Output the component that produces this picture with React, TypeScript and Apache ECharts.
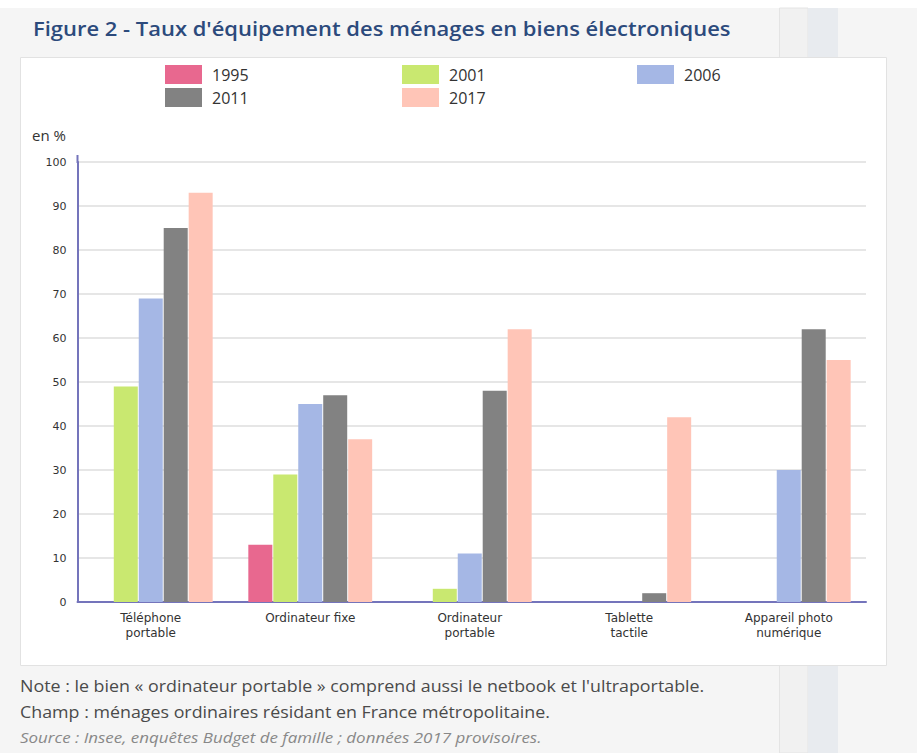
import React, { useEffect, useRef } from "react";
import * as echarts from "echarts";

const categories = [
  "Téléphone\nportable",
  "Ordinateur fixe",
  "Ordinateur\nportable",
  "Tablette\ntactile",
  "Appareil photo\nnumérique",
];
const years = ["1995", "2001", "2006", "2011", "2017"];
const v1995 = [null, 13, null, null, null];
const v2001 = [49, 29, 3, null, null];
const v2006 = [69, 45, 11, null, 30];
const v2011 = [85, 47, 48, 2, 62];
const v2017 = [93, 37, 62, 42, 55];
const yTicks = { min: 0, max: 100, interval: 10 };
const colors = ["#e8688f", "#c9e870", "#a5b7e5", "#828282", "#ffc5b7"];

const titleText = "Figure 2 - Taux d'équipement des ménages en biens électroniques";
const noteText = "Note : le bien « ordinateur portable » comprend aussi le netbook et l'ultraportable.";
const champText = "Champ : ménages ordinaires résidant en France métropolitaine.";
const sourceText = "Source : Insee, enquêtes Budget de famille ; données 2017 provisoires.";

export default function App() {
  const ref = useRef<HTMLDivElement>(null);
  useEffect(() => {
    if (!ref.current) return;
    const chart = echarts.init(ref.current, null, { renderer: "svg" });
    const values = [v1995, v2001, v2006, v2011, v2017];
    const legendBase = {
      orient: "vertical" as const,
      top: 65,
      padding: 0,
      itemWidth: 37,
      itemHeight: 19,
      itemGap: 4,
      icon: "rect",
      textStyle: {
        fontSize: 16,
        fontFamily: "Open Sans",
        color: "#333",
        padding: [0, 0, 0, 5],
      },
    };
    const axisColor = "#7474bb";
    chart.setOption({
      animation: false,
      color: colors,
      graphic: {
        elements: [
          { type: "rect", z: -20, shape: { x: 0, y: 0, width: 917, height: 753 }, style: { fill: "#ffffff" } },
          { type: "rect", z: -19, shape: { x: 0, y: 8, width: 917, height: 745 }, style: { fill: "#f5f5f5" } },
          { type: "rect", z: -18, shape: { x: 779.5, y: 8, width: 28.5, height: 745 }, style: { fill: "#f1f1f1", stroke: "#e4e4e4", lineWidth: 1 } },
          { type: "rect", z: -18, shape: { x: 808, y: 8, width: 30, height: 745 }, style: { fill: "#e8ebef" } },
          { type: "rect", z: -17, shape: { x: 20.5, y: 57.5, width: 866, height: 608 }, style: { fill: "#ffffff", stroke: "#e2e2e2", lineWidth: 1 } },
          { type: "line", z: 5, shape: { x1: 77.5, y1: 155, x2: 77.5, y2: 163 }, style: { stroke: axisColor, lineWidth: 2 } },
          {
            type: "text", z: 10, x: 33, y: 28, scaleX: 1.098,
            style: { text: titleText, fill: "#2c4a7c", font: '600 20px "Open Sans"', verticalAlign: "middle" },
          },
          {
            type: "text", z: 10, x: 32, y: 135,
            style: { text: "en %", fill: "#333", font: '15px "Open Sans"', verticalAlign: "middle" },
          },
          {
            type: "text", z: 10, x: 20, y: 686, scaleX: 1.115,
            style: { text: noteText, fill: "#4a4a4a", font: '16px "Open Sans"', verticalAlign: "middle" },
          },
          {
            type: "text", z: 10, x: 20, y: 712, scaleX: 1.115,
            style: { text: champText, fill: "#4a4a4a", font: '16px "Open Sans"', verticalAlign: "middle" },
          },
          {
            type: "text", z: 10, x: 20, y: 737, scaleX: 1.13,
            style: { text: sourceText, fill: "#888888", font: 'italic 15px "Open Sans"', verticalAlign: "middle" },
          },
        ],
      },
      legend: [
        { ...legendBase, left: 165, data: ["1995", "2011"] },
        { ...legendBase, left: 402, data: ["2001", "2017"] },
        { ...legendBase, left: 637, data: ["2006"] },
      ],
      grid: [
        { left: 71, right: 48.5, top: 162, bottom: 151 },
        { left: 77.5, right: 51, top: 162, bottom: 151 },
      ],
      xAxis: [
        {
          type: "category", gridIndex: 0, data: categories,
          axisLine: { show: false }, axisTick: { show: false },
          axisLabel: { interval: 0, fontSize: 12, fontFamily: "DejaVu Sans", color: "#333", margin: 8, lineHeight: 15 },
        },
        {
          type: "category", gridIndex: 1, data: categories,
          axisLine: { show: true, lineStyle: { color: axisColor, width: 2 } },
          axisTick: { show: false }, axisLabel: { show: false },
        },
      ],
      yAxis: [
        { type: "value", gridIndex: 0, ...yTicks, show: false, splitLine: { show: false } },
        {
          type: "value", gridIndex: 1, ...yTicks,
          axisLine: { show: true, lineStyle: { color: axisColor, width: 2 } },
          axisTick: { show: false },
          axisLabel: { fontSize: 11, fontFamily: "DejaVu Sans", color: "#333", margin: 11 },
          splitLine: { show: true, lineStyle: { color: "#e6e6e6", width: 2 } },
        },
      ],
      series: years.map((y, i) => ({
        name: y,
        type: "bar",
        xAxisIndex: 0,
        yAxisIndex: 0,
        barWidth: 24,
        barGap: "4%",
        data: values[i],
        itemStyle: { color: colors[i] },
      })),
    });
    return () => chart.dispose();
  }, []);
  return (
    <div
      ref={ref}
      style={{ position: "absolute", left: 0, top: 0, width: 917, height: 753 }}
    />
  );
}
